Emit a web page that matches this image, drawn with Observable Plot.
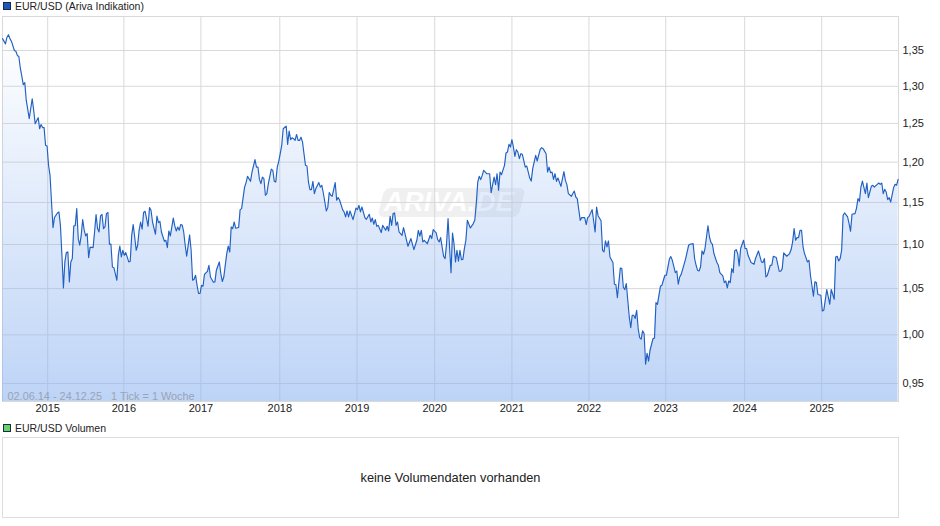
<!DOCTYPE html>
<html lang="de">
<head>
<meta charset="utf-8">
<title>EUR/USD</title>
<script src="https://cdn.jsdelivr.net/npm/d3@7"></script>
<script src="https://cdn.jsdelivr.net/npm/@observablehq/plot@0.6"></script>
<style>
  html, body { margin: 0; padding: 0; background: #fff; }
  body { width: 940px; height: 526px; overflow: hidden; position: relative; font-family: "Liberation Sans", Arial, sans-serif; color: #222; }
  .legend { height: 16px; line-height: 13px; font-size: 10.5px; padding-left: 15px; position: relative; box-sizing: border-box; }
  .legend i { position: absolute; left: 3px; top: 2px; width: 6px; height: 6px; border: 1px solid #1a2a4a; }
  #chart { height: 406px; margin-top: -1px; position: relative; }
  #chart svg { position: relative; background: transparent; display: block; }
  #wm { position: absolute; left: 381px; top: 173px; width: 141px; height: 29px; background: #f0f0f0; border-radius: 6px; transform: skewX(-14deg); }
  #wmt { position: absolute; left: 384px; top: 172px; font: italic bold 27px "Liberation Sans", Arial, sans-serif; color: #fff; letter-spacing: 0.4px; line-height: 30px; }
  #vol { margin-left: 2px; width: 897px; height: 81px; box-sizing: border-box; border: 1px solid #ddd; text-align: center; line-height: 79px; font-size: 12.8px; color: #222; }
  #legend2 { height: 16px; padding-top: 1px; }
  #legend2 i { top: 3px; }
</style>
</head>
<body>
<div class="legend"><i style="background:#1c58b8"></i><span id="name1"></span></div>
<div id="chart"><div id="wm"></div><div id="wmt">ARIVA.DE</div></div>
<div class="legend" id="legend2"><i style="background:#66d466"></i><span id="name2"></span></div>
<div id="vol"></div>
<script>
const seriesName = "EUR/USD (Ariva Indikation)";
const volumeName = "EUR/USD Volumen";
const volumeNote = "keine Volumendaten vorhanden";
const rangeNote = "02.06.14 - 24.12.25\u00a0\u00a0\u00a01 Tick = 1 Woche";
const firstWeek = "2014-06-02";
const lastDay = "2025-12-24";
const yDomain = [0.9321, 1.3993];
const yTicks = [0.95, 1.00, 1.05, 1.10, 1.15, 1.20, 1.25, 1.30, 1.35];
const xTickDates = ["2015-01-01","2015-12-26","2016-12-23","2017-12-30","2018-12-29","2019-12-30","2020-12-28","2021-12-26","2022-12-23","2023-12-30","2024-12-27"];
const xTickLabels = ["2015","2016","2017","2018","2019","2020","2021","2022","2023","2024","2025"];

const weeks = [
0,2,3,4,5,6,8,9,10,11,
12,13,14,15,16,18,20,21,22,24,
25,26,27,28,29,30,31,32,33,34,
35,37,38,39,40,41,42,43,44,45,
46,47,48,49,50,51,52,53,54,55,
56,57,58,59,61,62,63,64,65,66,
67,68,69,70,71,72,73,74,75,77,
78,79,80,81,82,83,85,86,87,88,
89,90,91,92,93,94,95,96,97,98,
99,100,101,103,104,105,106,107,109,110,
111,112,113,115,116,117,118,119,120,121,
122,123,124,126,127,128,129,130,131,132,
133,134,135,136,138,139,140,142,143,144,
146,147,148,149,151,152,153,154,155,156,
157,159,160,161,163,164,165,167,168,170,
171,172,173,174,175,176,177,178,179,181,
182,183,184,185,186,187,188,189,191,192,
193,194,195,196,197,198,199,200,201,202,
204,205,206,207,208,209,210,211,213,214,
215,216,218,219,220,221,222,224,225,226,
227,229,230,231,232,233,234,236,238,239,
240,241,242,244,245,247,248,249,250,251,
252,253,255,256,258,259,260,261,262,263,
264,265,266,267,269,270,271,273,275,277,
279,280,281,282,283,284,286,288,289,290,
292,293,294,295,297,298,299,300,301,302,
303,304,305,306,307,308,309,310,311,312,
313,315,317,318,319,320,321,322,323,324,
326,328,329,331,332,333,334,335,336,338,
339,340,341,342,343,344,345,346,347,348,
349,350,352,353,355,356,357,359,360,362,
363,364,366,367,368,369,370,371,372,373,
374,376,378,379,380,381,383,385,386,387,
389,390,392,393,394,395,397,399,400,401,
403,404,405,406,407,408,409,411,412,413,
414,416,417,418,419,420,421,422,423,424,
425,426,427,428,429,430,431,432,433,434,
435,436,438,439,440,441,443,444,445,446,
447,449,450,451,453,454,455,456,457,460,
462,463,465,466,467,468,469,470,471,472,
473,475,476,477,478,479,481,482,483,485,
486,487,488,489,490,491,492,493,494,495,
496,497,499,500,501,502,504,506,507,509,
511,512,513,514,515,517,518,519,521,523,
524,525,526,528,530,531,532,533,534,535,
536,537,538,539,540,542,543,544,546,547,
548,549,551,552,553,555,557,558,560,561,
562,563,564,565,566,567,569,570,571,572,
574,575,576,577,578,579,580,581,582,583,
585,586,587,589,590,591,592,593,594,595,
596,597,598,600,601,602,603
];
const rates = [
1.367,1.3595,1.369,1.3725,1.367,1.3633,1.35,1.349,1.343,1.3415,
1.325,1.314,1.302,1.305,1.2807,1.2563,1.283,1.2673,1.2496,1.2576,
1.243,1.2485,1.2445,1.2445,1.2214,1.2205,1.196,1.1833,1.1505,1.1199,
1.1318,1.1373,1.1385,1.1225,1.088,1.0508,1.08,1.0907,1.0915,1.0575,
1.08,1.0838,1.1218,1.1225,1.1425,1.107,1.0992,1.1108,1.1295,1.1167,
1.11,1.1128,1.085,1.097,1.0965,1.1147,1.1355,1.1187,1.1147,1.1337,
1.1355,1.1187,1.1207,1.1365,1.1378,1.1005,1.1005,1.0742,1.0735,1.0593,
1.0876,1.0983,1.0857,1.0934,1.0876,1.0907,1.08,1.0808,1.1108,1.1234,
1.1088,1.0934,1.0992,1.1167,1.1265,1.1179,1.1378,1.1393,1.1305,1.1214,
1.1437,1.1405,1.1265,1.112,1.1336,1.1258,1.1273,1.1147,1.1038,1.105,
1.0965,1.1159,1.11,1.1312,1.1218,1.1159,1.1206,1.1167,1.1234,1.1229,
1.1147,1.0992,1.0865,1.1112,1.0934,1.0593,1.0604,1.0649,1.0537,1.0446,
1.0446,1.0537,1.0526,1.066,1.0694,1.0762,1.063,1.0571,1.0575,1.0705,
1.08,1.0668,1.0579,1.063,1.0896,1.0983,1.0914,1.1206,1.1187,1.1265,
1.1191,1.1199,1.1413,1.1425,1.1688,1.1743,1.1821,1.1759,1.1875,1.2031,
1.1937,1.1937,1.1783,1.173,1.1812,1.1792,1.1587,1.1607,1.173,1.1912,
1.1896,1.1759,1.175,1.1937,1.2009,1.2108,1.2214,1.243,1.2465,1.2227,
1.2399,1.2287,1.2312,1.23,1.2278,1.2355,1.2278,1.2278,1.232,1.2256,
1.1959,1.195,1.175,1.1657,1.1657,1.1759,1.1607,1.1669,1.1743,1.1688,
1.171,1.1615,1.1397,1.1437,1.162,1.1587,1.1575,1.1743,1.1526,1.1559,
1.1526,1.1413,1.1385,1.1325,1.1397,1.1325,1.1397,1.1293,1.1432,1.1413,
1.1465,1.1385,1.1445,1.1317,1.1297,1.1357,1.1265,1.1312,1.1238,1.1293,
1.1214,1.1225,1.114,1.1225,1.1167,1.1214,1.1159,1.1332,1.1225,1.1365,
1.1373,1.1225,1.1265,1.1147,1.1108,1.1199,1.1128,1.098,1.107,1.0942,
1.105,1.1167,1.1097,1.1167,1.103,1.105,1.101,1.1108,1.107,1.1175,
1.1135,1.1058,1.103,1.1081,1.0865,1.0838,1.101,1.1305,1.0972,1.0679,
1.1135,1.101,1.08,1.0934,1.0808,1.0934,1.0827,1.083,1.0954,1.105,
1.1285,1.1194,1.1246,1.1285,1.1486,1.175,1.1821,1.178,1.1833,1.1896,
1.1854,1.1854,1.162,1.1812,1.1718,1.1854,1.1648,1.1875,1.1842,1.1959,
1.2115,1.2128,1.2227,1.2192,1.2287,1.2192,1.2073,1.2158,1.2128,1.2044,
1.2107,1.2099,1.1937,1.195,1.18,1.1762,1.1917,1.2086,1.2014,1.2158,
1.2184,1.2172,1.2107,1.1875,1.1937,1.1867,1.1875,1.1783,1.1854,1.1759,
1.18,1.1697,1.188,1.1771,1.1718,1.1607,1.1575,1.1639,1.1566,1.1546,
1.1285,1.1317,1.1317,1.1234,1.1317,1.1332,1.1413,1.1147,1.1445,1.134,
1.1279,1.0934,1.0914,1.1042,1.0972,1.1042,1.0857,1.0793,1.0549,1.0545,
1.0401,1.0731,1.0724,1.0516,1.049,1.0556,1.0372,1.0191,1.0077,1.0209,
1.0209,1.0175,1.0263,1.0067,.9972,.9954,1.0042,1.0015,.9695,.9807,
.9726,.9839,.996,.9966,1.0347,1.0328,1.0526,1.0537,1.0593,1.0649,
1.0649,1.083,1.0861,1.0819,1.0679,1.0697,1.0549,1.063,1.066,1.0838,
1.0992,1.1003,1.1011,1.0838,1.0762,1.0705,1.0697,1.0742,1.0926,1.0888,
1.0954,1.1221,1.1088,1.1024,1.1003,1.0896,1.0793,1.0762,1.0679,1.0641,
1.0567,1.0585,1.0508,1.0585,1.0567,1.0724,1.0679,1.0926,1.0942,1.0896,
1.0754,1.0954,1.105,1.0954,1.0954,1.0876,1.0793,1.0773,1.0838,1.0926,
1.08,1.0793,1.0838,1.063,1.0649,1.0762,1.0762,1.0865,1.085,1.0694,
1.0694,1.0724,1.0903,1.0865,1.0896,1.0942,1.103,1.1187,1.105,1.1081,
1.1081,1.1167,1.1167,1.0972,1.0896,1.08,1.0819,1.0649,1.0416,1.0575,
1.0567,1.0435,1.0427,1.0255,1.0263,1.049,1.0328,1.049,1.0383,1.0857,
1.0865,1.0811,1.0838,1.0934,1.1345,1.1373,1.1325,1.1246,1.1155,1.1357,
1.1365,1.1429,1.1546,1.1514,1.1688,1.1762,1.1681,1.1607,1.1738,1.1559,
1.1697,1.171,1.1688,1.1722,1.1738,1.1722,1.1738,1.1607,1.166,1.1627,
1.1534,1.1559,1.1505,1.1681,1.1722,1.171,1.1783
];

const start = new Date(firstWeek + "T00:00:00Z");
const quotes = weeks.map((w, i) => ({ date: d3.utcDay.offset(start, 7 * w), rate: rates[i] }));
const tickDates = xTickDates.map(d => new Date(d + "T00:00:00Z"));

document.getElementById("name1").textContent = seriesName;
document.getElementById("name2").textContent = volumeName;
document.getElementById("vol").textContent = volumeNote;

const gradient = () => {
  const defs = d3.create("svg:defs");
  const g = defs.append("linearGradient").attr("id", "areaFade").attr("x1", 0).attr("x2", 0).attr("y1", 0).attr("y2", 1);
  g.append("stop").attr("offset", "0%").attr("stop-color", "#8cb3f0").attr("stop-opacity", 0);
  g.append("stop").attr("offset", "100%").attr("stop-color", "#8cb3f0").attr("stop-opacity", 0.57);
  return defs.node();
};

const plot = Plot.plot({
  width: 940,
  height: 406,
  marginTop: 1,
  marginLeft: 2,
  marginRight: 42,
  marginBottom: 20,
  style: { fontFamily: "'Liberation Sans', Arial, sans-serif", fontSize: "11px", color: "#222", background: "transparent", overflow: "visible" },
  x: { type: "utc", domain: [start, new Date(lastDay + "T00:00:00Z")], label: null },
  y: { type: "log", domain: yDomain, label: null },
  marks: [
    gradient,
    Plot.ruleY(yTicks, { stroke: "#d9d9d9", strokeWidth: 1 }),
    Plot.ruleX(tickDates, { stroke: "#d9d9d9", strokeWidth: 1 }),
    Plot.frame({ stroke: "#d9d9d9", strokeWidth: 1 }),
    Plot.areaY(quotes, { x: "date", y1: () => yDomain[0], y2: "rate", fill: "url(#areaFade)" }),
    Plot.lineY(quotes, { x: "date", y: "rate", stroke: "#2160c2", strokeWidth: 1.15, strokeLinejoin: "round" }),
    Plot.axisY(yTicks, { anchor: "right", label: null, tickSize: 0, tickPadding: 4, tickFormat: d => d.toFixed(2).replace(".", ",") }),
    Plot.axisX(tickDates, { anchor: "bottom", label: null, tickSize: 0, tickPadding: 3, tickFormat: (d, i) => xTickLabels[i] }),
    Plot.text([rangeNote], { frameAnchor: "bottom-left", dx: 5, dy: -2, fill: "#9aa3b5", fontSize: 10.9, textAnchor: "start", lineAnchor: "bottom" })
  ]
});
document.getElementById("chart").appendChild(plot);
</script>
</body>
</html>
